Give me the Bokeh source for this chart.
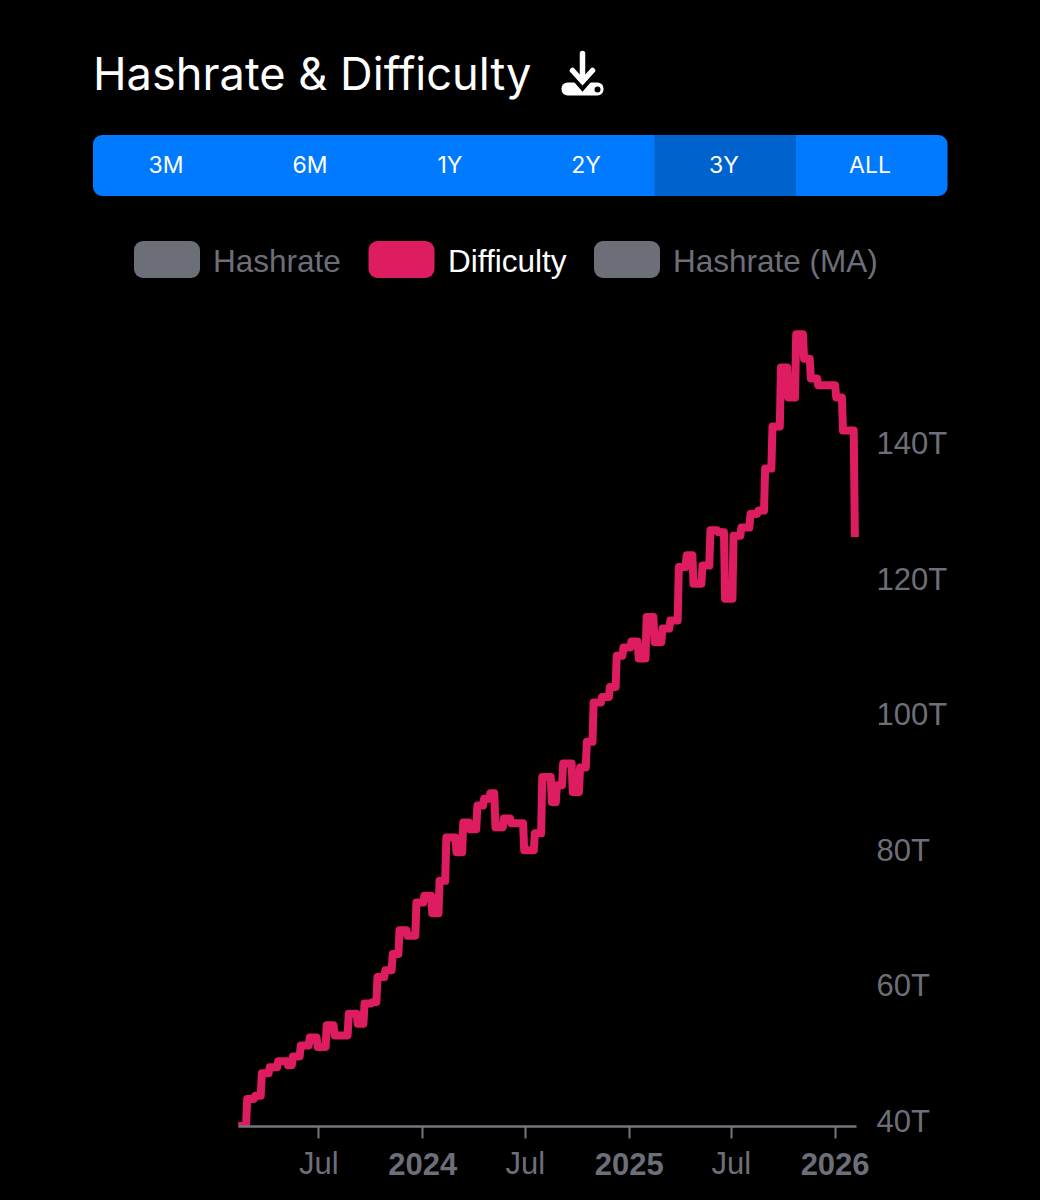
from datetime import date
from bokeh.plotting import figure
from bokeh.layouts import column
from bokeh.models import Range1d, FixedTicker, DatetimeAxis, PrintfTickFormatter
from bokeh.core.properties import value
from bokeh.embed import file_html
from bokeh.resources import INLINE

BG = "#000000"
GREY = "#6d6f78"
PINK = "#dd1c62"

title = "Hashrate & Difficulty"
ranges = ["3M", "6M", "1Y", "2Y", "3Y", "ALL"]
series_names = ["Hashrate", "Difficulty", "Hashrate (MA)"]

diff_dates = [
    "2023-02-08","2023-02-24","2023-03-10","2023-03-22","2023-04-05","2023-04-20","2023-05-07",
    "2023-05-16","2023-05-30","2023-06-15","2023-06-29","2023-07-15","2023-07-29","2023-08-11",
    "2023-08-23","2023-09-08","2023-09-20","2023-10-04","2023-10-13","2023-10-27","2023-11-09",
    "2023-11-21","2023-12-05","2023-12-21","2024-01-04","2024-01-18","2024-01-31","2024-02-12",
    "2024-03-01","2024-03-13","2024-03-25","2024-04-07","2024-04-19","2024-04-30","2024-05-09",
    "2024-05-24","2024-06-06","2024-06-29","2024-07-18","2024-07-31","2024-08-17","2024-08-26",
    "2024-09-06","2024-09-23","2024-10-06","2024-10-18","2024-10-30","2024-11-14","2024-11-28",
    "2024-12-10","2024-12-22","2025-01-05","2025-01-18","2025-02-01","2025-02-15","2025-03-01",
    "2025-03-15","2025-03-30","2025-04-13","2025-04-25","2025-05-11","2025-05-25","2025-06-08",
    "2025-06-20","2025-07-05","2025-07-19","2025-08-04","2025-08-18","2025-08-30","2025-09-12",
    "2025-09-27","2025-10-10","2025-10-24","2025-11-07","2025-11-19","2025-12-02","2026-01-03",
    "2026-01-15","2026-02-05",
]
diff_values = [
    39.35,43.3,43.8,47.1,48.0,48.9,48.3,
    49.6,51.2,52.4,51.0,54.2,52.7,52.7,
    55.9,54.4,57.4,57.6,61.3,62.3,64.7,
    68.2,67.4,72.3,73.3,70.7,75.5,81.9,
    79.7,84.1,83.1,86.6,87.6,88.4,83.4,
    84.7,84.0,80.0,82.5,90.8,87.1,89.6,
    92.8,88.6,92.2,96.0,101.8,102.6,104.1,
    108.7,109.9,110.8,108.3,114.4,110.7,112.7,
    113.9,121.8,123.5,119.3,122.0,127.2,126.9,
    117.1,126.4,127.6,129.6,130.1,136.3,142.5,
    151.2,146.8,156.1,152.5,149.6,148.6,146.8,
    141.9,126.2,
]
y_ticks = [40, 60, 80, 100, 120, 140]
half_year_ticks = ["2023-07-01", "2024-07-01", "2025-07-01"]
year_ticks = ["2024-01-01", "2025-01-01", "2026-01-01"]
year_labels = ["2024", "2025", "2026"]

DAY = 86400000.0


def ms(s):
    return (date.fromisoformat(s) - date(1970, 1, 1)).days * DAY


# ---------- header (page-pixel coordinates) ----------
head = figure(width=1040, height=310, x_range=Range1d(0, 1040), y_range=Range1d(310, 0),
              output_backend="svg", toolbar_location=None, background_fill_color=BG,
              border_fill_color=BG, outline_line_color=None, min_border=0,
              x_axis_location=None, y_axis_location=None)
head.grid.visible = False
head.frame_align = False

head.text([92.5], [73], [title], text_font=value("Inter"), text_font_size="45.2px", text_color="#ffffff",
          text_baseline="middle", text_align="left")

# download icon
head.quad(left=[561], right=[603], top=[82], bottom=[95], fill_color="#ffffff", line_color=None, border_radius=6)
head.line([569, 582, 595], [67, 82, 67], line_color=BG, line_width=12, line_join="miter")
head.line([582, 582], [53, 80], line_color="#ffffff", line_width=5.5, line_cap="round")
head.line([572, 582, 592], [70, 81, 70], line_color="#ffffff", line_width=5.5, line_cap="round", line_join="miter")
head.scatter([597], [89], size=6, marker="circle", fill_color=BG, line_color=None)

# range buttons
head.quad(left=[92.5], right=[947], top=[134.5], bottom=[195.5], fill_color="#007aff", line_color=None, border_radius=9)
head.quad(left=[654], right=[795.5], top=[134.5], bottom=[195.5], fill_color="#0062cc", line_color=None)
head.text([165.5, 309.5, 449.5, 585.5, 723.5, 869.5], [164.5] * 6, ranges, text_font=value("Inter"),
          text_font_size="23px", text_color="#ffffff", text_baseline="middle", text_align="center")

# legend
sw_left = [133.5, 368, 593.5]
sw_colors = [GREY, PINK, GREY]
txt_colors = [GREY, "#ffffff", GREY]
head.quad(left=sw_left, right=[x + 66 for x in sw_left], top=[240.5] * 3, bottom=[277.5] * 3,
          fill_color=sw_colors, line_color=None, border_radius=9)
head.text([212.5, 447.5, 672.5], [260] * 3, series_names, text_font=value("Liberation Sans"),
          text_font_size="31.5px", text_color=txt_colors, text_baseline="middle", text_align="left")

# ---------- chart ----------
p = figure(width=1040, height=890, x_axis_type=None, y_axis_location="right",
           x_range=Range1d(ms("2023-01-29"), ms("2026-02-15")), y_range=Range1d(39.26, 158.14),
           output_backend="svg", toolbar_location=None, background_fill_color=BG,
           border_fill_color=BG, outline_line_color=None,
           min_border_left=232, min_border_right=180, min_border_top=10, min_border_bottom=74)
p.grid.visible = False
p.frame_align = False

# stepped path: each level is held until shortly before the next adjustment
step_x, step_y = [], []
d_ms = [ms(d) for d in diff_dates]
for i, v in enumerate(diff_values):
    step_x.append(d_ms[i])
    step_y.append(v)
    if i + 1 < len(diff_values):
        step_x.append(d_ms[i + 1] - 2 * DAY)
        step_y.append(v)

p.line(step_x, step_y, line_color=PINK, line_width=8, line_join="round", line_cap="butt")

yax = p.yaxis[0]
yax.ticker = FixedTicker(ticks=y_ticks)
yax.formatter = PrintfTickFormatter(format="%dT")
yax.axis_line_color = None
yax.major_tick_line_color = None
yax.minor_tick_line_color = None
yax.major_label_standoff = 10
yax.major_label_text_color = GREY
yax.major_label_text_font = "Liberation Sans"
yax.major_label_text_font_size = "31px"

overrides = {ms(d): "Jul" for d in half_year_ticks}
overrides.update({ms(d): " " for d in year_ticks})
ax1 = DatetimeAxis(ticker=FixedTicker(ticks=[ms(d) for d in half_year_ticks + year_ticks]),
                   major_label_overrides=overrides,
                   bounds=(ms("2023-02-08"), ms("2026-02-08")))
ax1.axis_line_color = "#74767f"
ax1.axis_line_width = 2.5
ax1.major_tick_line_color = "#74767f"
ax1.major_tick_line_width = 2
ax1.major_tick_in = 0
ax1.major_tick_out = 12
ax1.minor_tick_line_color = None
ax1.major_label_standoff = 7
ax1.major_label_text_color = GREY
ax1.major_label_text_font = "Liberation Sans"
ax1.major_label_text_font_size = "31px"
p.add_layout(ax1, "below")

# bold year labels: a second axis pulled back onto the same row as the "Jul" labels
ax2 = DatetimeAxis(ticker=FixedTicker(ticks=[ms(d) for d in year_ticks]),
                   major_label_overrides={ms(d): l for d, l in zip(year_ticks, year_labels)})
ax2.axis_line_color = None
ax2.major_tick_line_color = None
ax2.minor_tick_line_color = None
ax2.major_tick_in = 0
ax2.major_tick_out = 0
ax2.major_label_standoff = -31
ax2.major_label_text_color = GREY
ax2.major_label_text_font = "Liberation Sans"
ax2.major_label_text_font_style = "bold"
ax2.major_label_text_font_size = "31px"
p.add_layout(ax2, "below")

page = column(head, p, spacing=0)
html = file_html(page, INLINE)
html = html.replace("<head>", "<head><style>html,body{background:#000000;}</style>", 1)
open("out.html", "w").write(html)
